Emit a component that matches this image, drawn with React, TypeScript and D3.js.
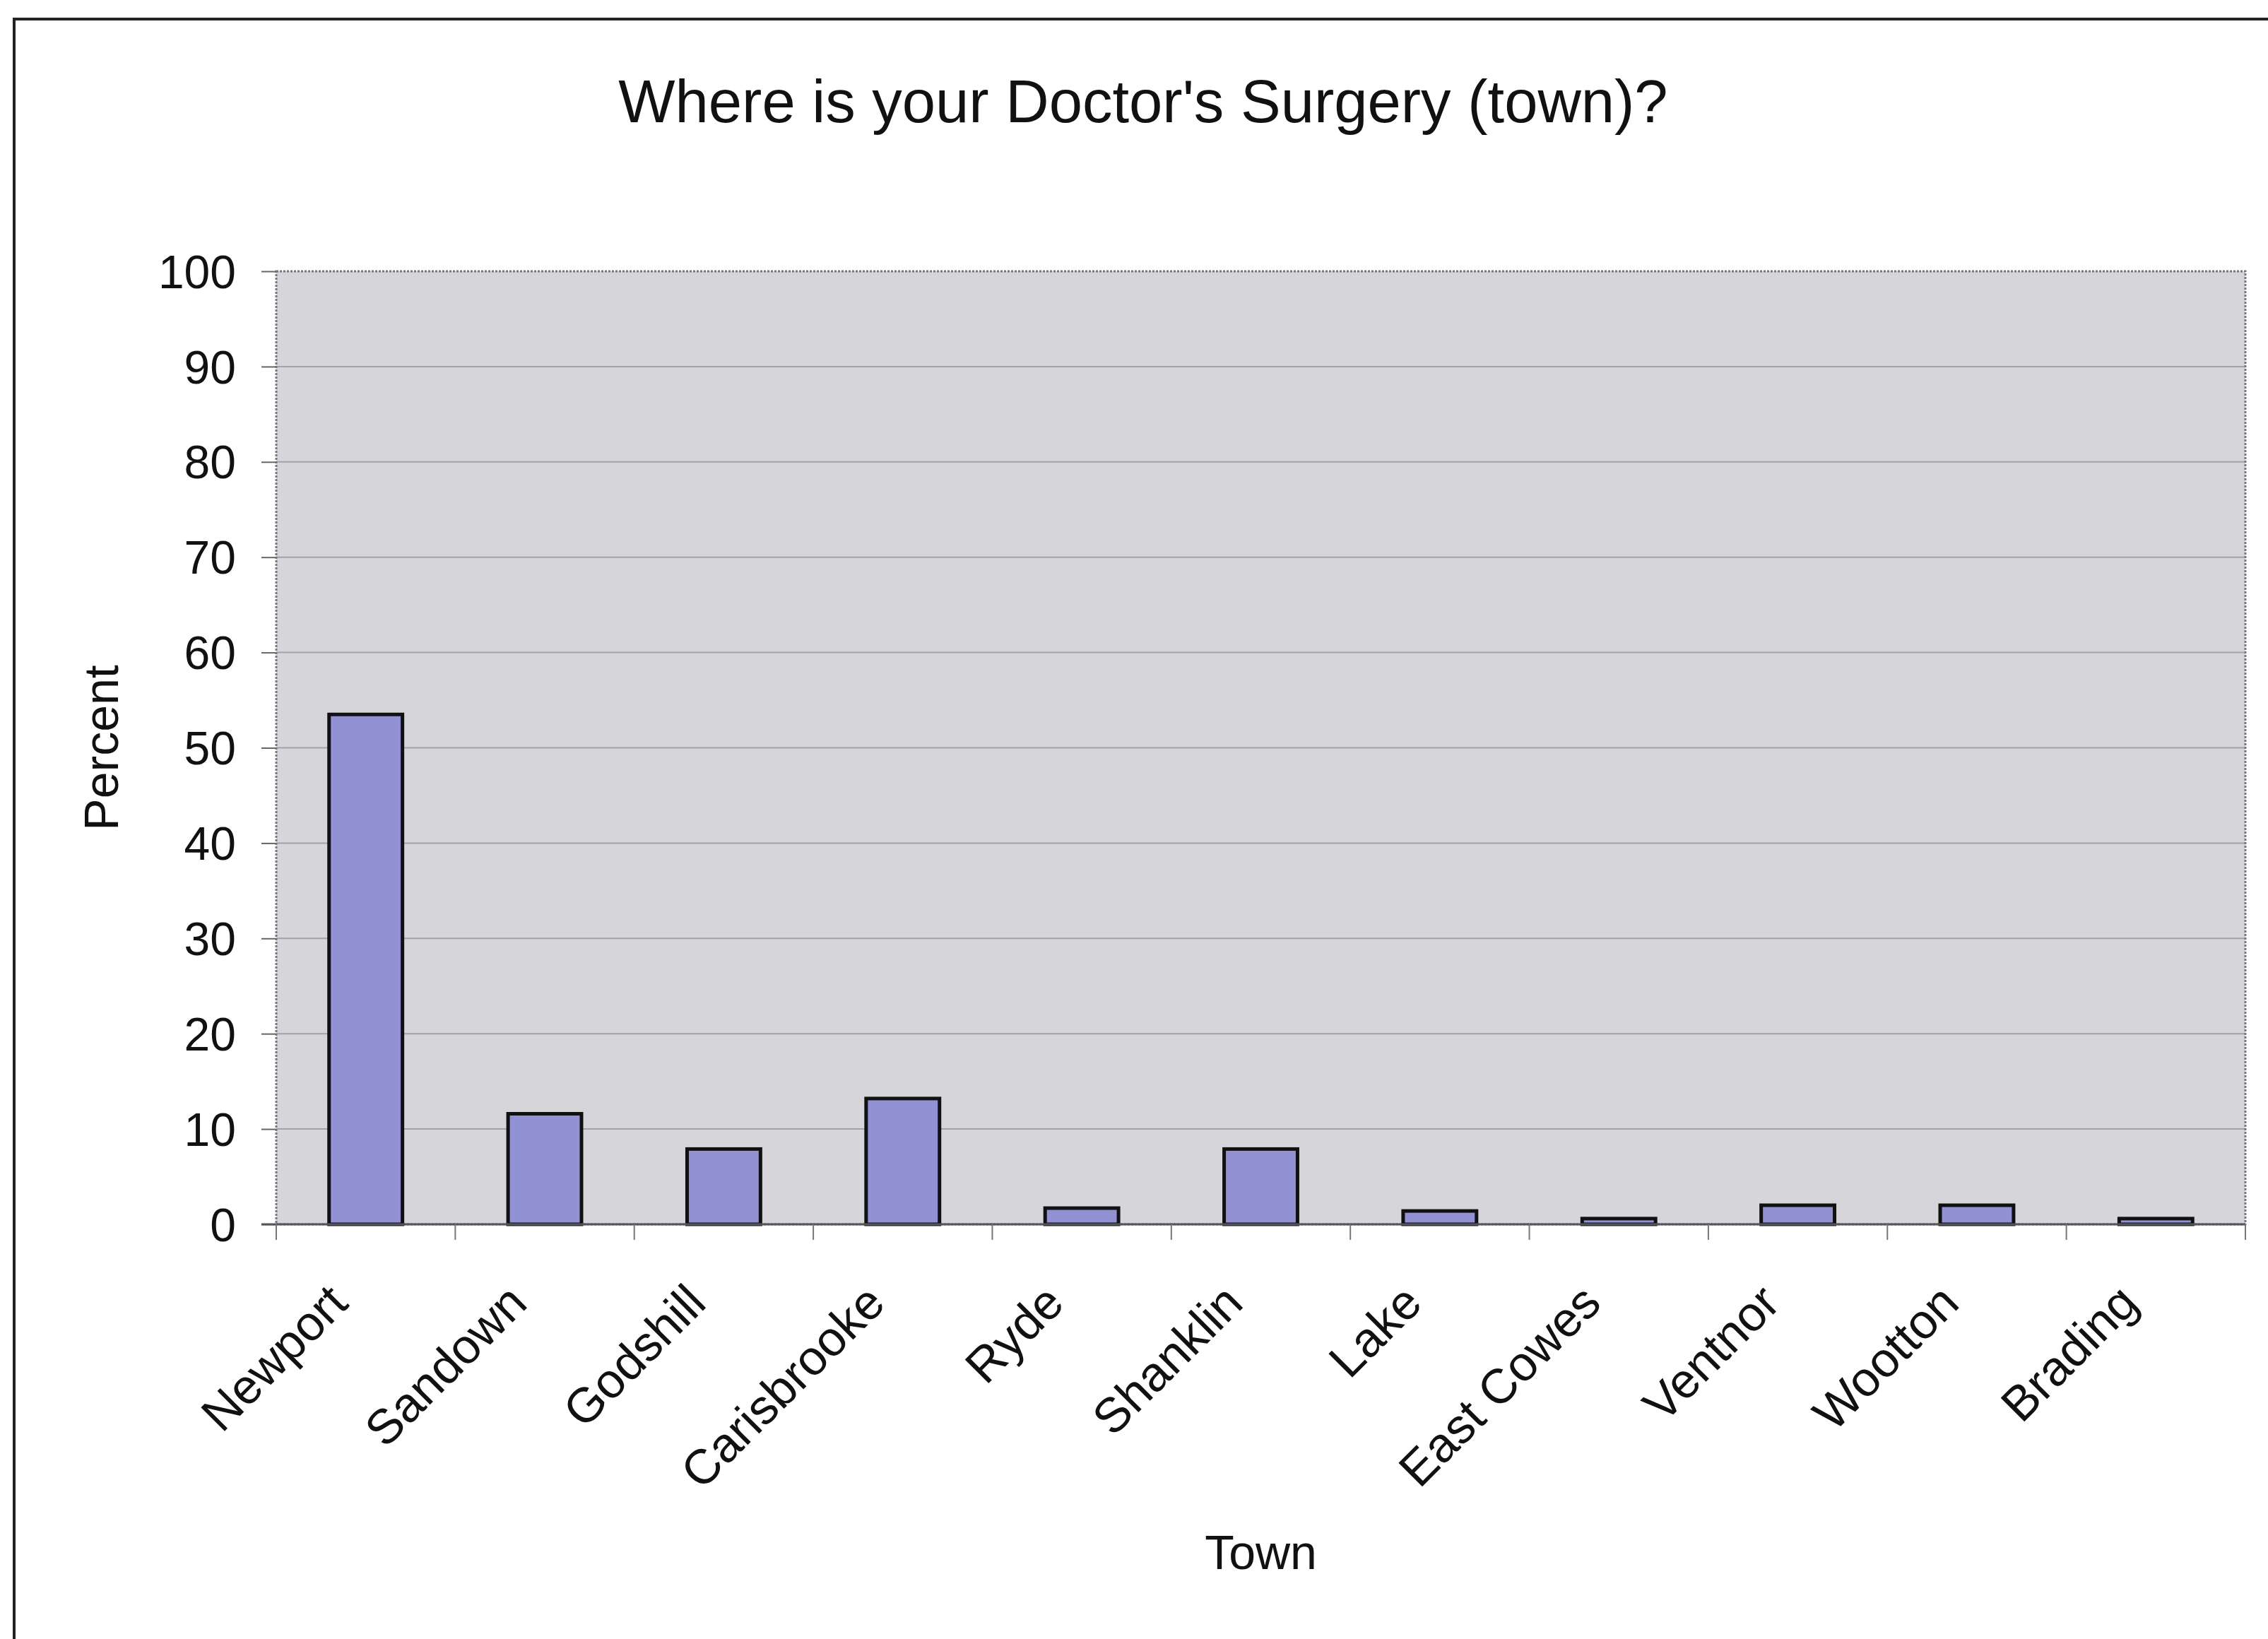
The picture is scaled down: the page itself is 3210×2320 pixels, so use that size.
import React, { useEffect, useRef } from "react";
import * as d3 from "d3";

const towns: string[] = ["Newport", "Sandown", "Godshill", "Carisbrooke", "Ryde", "Shanklin", "Lake", "East Cowes", "Ventnor", "Wootton", "Brading"];
const percents: number[] = [53.5, 11.6, 7.9, 13.2, 1.7, 7.9, 1.4, 0.6, 2.0, 2.0, 0.6];
const yTicks: number[] = [0, 10, 20, 30, 40, 50, 60, 70, 80, 90, 100];
const titleText = "Where is your Doctor's Surgery (town)?";
const xTitle = "Town";
const yTitle = "Percent";

const W = 3210;
const H = 2320;
const FONT = "'Liberation Sans', Arial, sans-serif";

export default function App() {
  const ref = useRef<SVGSVGElement | null>(null);

  useEffect(() => {
    const svg = d3.select(ref.current);
    svg.selectAll("*").remove();

    const left = 391, right = 3178, top = 384, bottom = 1733;

    const x = d3.scaleBand<string>().domain(towns).range([left, right]).paddingInner(0.59).paddingOuter(0.295);
    const xStep = d3.scaleBand<string>().domain(towns).range([left, right]).padding(0);
    const y = d3.scaleLinear().domain([0, 100]).range([bottom, top]);

    svg.append("rect").attr("width", W).attr("height", H).attr("fill", "#ffffff");

    // outer frame
    svg.append("path")
      .attr("d", `M20,${H + 10} L20,27 L${W + 10},27`)
      .attr("fill", "none").attr("stroke", "#222").attr("stroke-width", 4);

    // title
    svg.append("text").attr("x", 1618).attr("y", 173).attr("text-anchor", "middle")
      .attr("font-family", FONT).attr("font-size", 85).attr("fill", "#111").text(titleText);

    // plot area
    svg.append("rect").attr("x", left).attr("y", top).attr("width", right - left).attr("height", bottom - top)
      .attr("fill", "#d5d5da");

    // gridlines
    svg.append("g").selectAll("line").data(yTicks.filter(t => t > 0 && t < 100)).join("line")
      .attr("x1", left).attr("x2", right).attr("y1", d => y(d)).attr("y2", d => y(d))
      .attr("stroke", "#a2a2aa").attr("stroke-width", 2);

    // plot border (dotted)
    svg.append("rect").attr("x", left).attr("y", top).attr("width", right - left).attr("height", bottom - top)
      .attr("fill", "none").attr("stroke", "#77777f").attr("stroke-width", 3).attr("stroke-dasharray", "3,2");

    // bars
    svg.append("g").selectAll("rect").data(towns).join("rect")
      .attr("x", d => x(d) as number)
      .attr("y", (d, i) => y(percents[i]))
      .attr("width", x.bandwidth())
      .attr("height", (d, i) => y(0) - y(percents[i]))
      .attr("fill", "#9191d3").attr("stroke", "#111").attr("stroke-width", 5);

    // y axis
    const yAxis = svg.append("g").attr("transform", `translate(${left},0)`)
      .call(d3.axisLeft(y).tickValues(yTicks).tickSize(21).tickPadding(36).tickFormat(d3.format("d")));
    yAxis.select(".domain").remove();
    yAxis.selectAll(".tick line").attr("stroke", "#666").attr("stroke-width", 2);
    yAxis.selectAll(".tick text").attr("font-family", FONT).attr("font-size", 66).attr("fill", "#111").attr("dy", "0.35em");

    // x axis baseline
    svg.append("line").attr("x1", left - 21).attr("x2", right).attr("y1", bottom).attr("y2", bottom)
      .attr("stroke", "#55555f").attr("stroke-width", 3);

    // x category ticks at boundaries
    const bounds = towns.map(t => xStep(t) as number).concat([right]);
    svg.append("g").selectAll("line").data(bounds).join("line")
      .attr("x1", d => d).attr("x2", d => d).attr("y1", bottom).attr("y2", bottom + 22)
      .attr("stroke", "#777").attr("stroke-width", 2);

    // x labels
    svg.append("g").selectAll("text").data(towns).join("text")
      .attr("transform", d => `translate(${(xStep(d) as number) + xStep.bandwidth() / 2 - 22},${bottom + 115}) rotate(-45)`)
      .attr("text-anchor", "end")
      .attr("font-family", FONT).attr("font-size", 69).attr("fill", "#111")
      .text(d => d);

    // axis titles
    svg.append("text").attr("x", (left + right) / 2).attr("y", 2221).attr("text-anchor", "middle")
      .attr("font-family", FONT).attr("font-size", 68).attr("fill", "#111").text(xTitle);

    svg.append("text").attr("transform", `translate(167,${(top + bottom) / 2}) rotate(-90)`).attr("text-anchor", "middle")
      .attr("font-family", FONT).attr("font-size", 68).attr("fill", "#111").text(yTitle);
  }, []);

  return (
    <svg ref={ref} width={W} height={H} style={{ position: "absolute", left: 0, top: 0, display: "block" }} />
  );
}
